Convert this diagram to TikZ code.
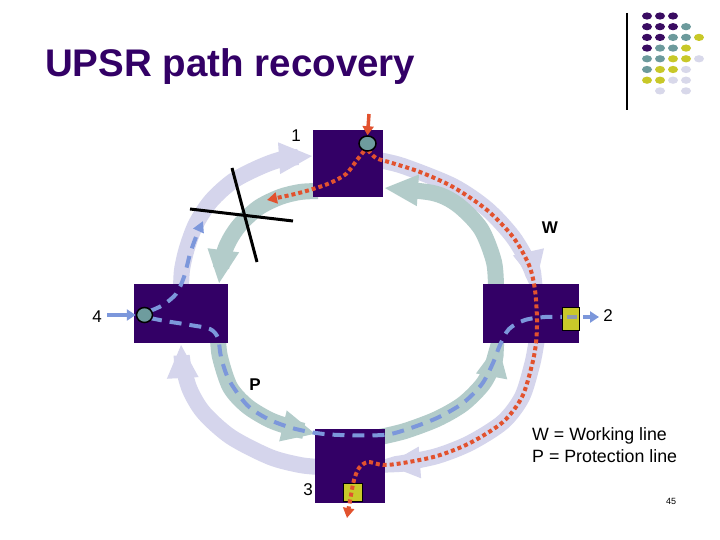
\documentclass[tikz,border=0pt]{standalone}
\usepackage{fontspec}
\setmainfont{Liberation Sans}
\usetikzlibrary{arrows.meta,shapes.geometric}
\definecolor{boxc}{HTML}{330066}
\definecolor{lav}{HTML}{D5D5EC}
\definecolor{tband}{HTML}{B3CCCA}
\definecolor{tdot}{HTML}{6E9C9E}
\definecolor{ylw}{HTML}{C9C92A}
\definecolor{bdash}{HTML}{7C97DB}
\definecolor{rdot}{HTML}{E2522E}
\definecolor{grdash}{HTML}{8E9AAE}
\definecolor{lpur}{HTML}{3A0C62}
\definecolor{lteal}{HTML}{6C9A9C}
\definecolor{lylw}{HTML}{C8C828}
\definecolor{llav}{HTML}{D8D8EA}
\tikzset{
  box/.style={fill=boxc, draw=none, inner sep=0pt, outer sep=0pt},
  lavband/.style={draw=lav, line width=16pt, -{Triangle[length=34pt,width=29pt]}},
  tealband/.style={draw=tband, line width=16pt, -{Triangle[length=34pt,width=29pt]}},
  bluedash/.style={draw=bdash, line width=4pt, dash pattern=on 12pt off 8pt},
  reddot/.style={draw=rdot, line width=4pt, dash pattern=on 4pt off 3pt},
  lbl/.style={font=\fontsize{17}{20}\selectfont, inner sep=0pt},
  sq/.style={fill=ylw, draw=black, line width=0.8pt, inner sep=0pt},
  dotc/.style={fill=tdot, draw=black, line width=1.5pt, ellipse, inner sep=0pt}
}
\begin{document}
\begin{tikzpicture}[x=1pt,y=-1pt]
\useasboundingbox[fill=white] (0,0) rectangle (720,540);

% title
\node[anchor=base west, inner sep=0pt, text=boxc, font=\bfseries\fontsize{38.5}{44}\selectfont] (title) at (45,77) {UPSR path recovery};

% logo
\draw[line width=1.3pt] (627,13) -- (627,110);
\foreach \c/\r/\col in {0/0/lpur,1/0/lpur,2/0/lpur,
  0/1/lpur,1/1/lpur,2/1/lpur,3/1/lteal,
  0/2/lpur,1/2/lpur,2/2/lteal,3/2/lteal,4/2/lylw,
  0/3/lpur,1/3/lteal,2/3/lteal,3/3/lylw,
  0/4/lteal,1/4/lteal,2/4/lylw,3/4/lylw,4/4/llav,
  0/5/lteal,1/5/lylw,2/5/lylw,3/5/llav,
  0/6/lylw,1/6/lylw,2/6/llav,3/6/llav,
  1/7/llav,3/7/llav}{
  \fill[\col] ({647+13*\c},{16+10.7*\r}) ellipse (5pt and 3.6pt);
}

% outer (clockwise) bands
\draw[lavband] plot[smooth] coordinates {(181,290) (182,270) (187,248) (196,224) (211,201) (233,181) (260,167) (283,159) (313,156)};
\draw[lavband] plot[smooth] coordinates {(378,160) (403,166) (453,186) (487,209) (513,237) (530,266) (536,285)};
\draw[lavband] plot[smooth] coordinates {(537,338) (536,345) (532,365) (522,397) (503,422) (470,443) (437,456) (403,463) (386,465)};
\draw[lavband] plot[smooth] coordinates {(320,467) (300,465) (270,457) (231,437) (204,413) (190,390) (183,365) (181,344)};

% inner (counter-clockwise) bands
\draw[tealband] plot[smooth] coordinates {(318,191) (300,192) (280,197) (258,208) (238,227) (225,250) (219,284)};
\draw[tealband] plot[smooth] coordinates {(496,290) (494,262) (481,229) (458,205) (433,193) (384,188)};
\draw[tealband] plot[smooth] coordinates {(380,437) (405,431) (437,419) (463,404) (483,384) (493,364) (498,343)};
\draw[tealband] plot[smooth] coordinates {(218,338) (220,357) (230,387) (247,406) (270,420) (293,428) (316,434)};

% network elements
\node[box, minimum width=70pt, minimum height=67pt] (n1) at (348,163.5) {};
\node[box, minimum width=96pt, minimum height=59pt] (n2) at (531,313.5) {};
\node[box, minimum width=70pt, minimum height=74pt] (n3) at (350,466) {};
\node[box, minimum width=94pt, minimum height=59pt] (n4) at (181,313.5) {};

% labels
\node[lbl] (l1) at (296,136) {1};
\node[lbl, font=\bfseries\fontsize{17}{20}\selectfont] (lw) at (550,228) {W};
\node[lbl] (l2) at (608,316) {2};
\node[lbl] (l3) at (308,490) {3};
\node[lbl] (l4) at (97,317) {4};
\node[lbl, font=\bfseries\fontsize{17}{20}\selectfont] (lp) at (255,385) {P};

% blue protection path
\draw[bluedash, -{Triangle[length=11pt,width=11pt]}] plot[smooth] coordinates {(150,311) (163,305) (176,294) (184,277) (190,254) (196,237) (203,221)};
\draw[bluedash] plot[smooth] coordinates {(150,318) (165,321) (190,325) (210,329) (218,338) (221,357) (229,380) (247,405) (268,419) (292,428) (316,433) (340,435) (383,435) (405,430) (437,418) (463,403) (482,384) (493,363) (500,345) (509,329) (525,320) (545,317) (563,317)};

% yellow squares
\node[sq, minimum width=17pt, minimum height=23pt] (s2) at (570.5,318.5) {};
\draw[grdash, line width=4pt] (567,317) -- (577,317);
\node[sq, minimum width=19pt, minimum height=18pt] (s3) at (352.5,492) {};

% working path (red)
\draw[reddot, -{Triangle[length=10pt,width=11pt]}] plot[smooth] coordinates {(368,150) (376,158) (392,163) (420,172) (453,187) (487,210) (513,237) (529,265) (535,290) (537,320) (536,343) (532,365) (522,397) (503,422) (470,443) (437,456) (403,463) (383,465) (368,462) (359,468) (354,480) (351,495) (347,518)};
\draw[reddot, -{Triangle[length=10pt,width=11pt]}] plot[smooth] coordinates {(364,151) (357,160) (346,174) (330,183) (313,189) (295,194) (267,200)};

% input / output arrows
\coordinate (rin) at (369,114);
\coordinate (bin) at (107,315);
\coordinate (bout) at (599,317);
\node[dotc, minimum width=17pt, minimum height=15pt] (c1) at (367.5,143.5) {};
\node[dotc, minimum width=16pt, minimum height=15pt] (c4) at (144.5,315) {};
\draw[rdot, line width=3.5pt, -{Triangle[length=9pt,width=11pt]}] (rin) -- (c1.north);
\draw[bdash, line width=3.5pt, -{Triangle[length=9pt,width=11pt]}] (bin) -- (c4.west);
\draw[bdash, line width=3.5pt, -{Triangle[length=9pt,width=11pt]}] ([xshift=4pt]s2.east|-bout) -- (bout);

% break mark
\coordinate (xa) at (190,209);
\coordinate (xb) at (293,221);
\coordinate (xc) at (232,168);
\coordinate (xd) at (257,262);
\draw[line width=3pt] (xa) -- (xb);
\draw[line width=3pt] (xc) -- (xd);

% legend
\node[anchor=base west, inner sep=0pt, font=\fontsize{17.8}{21}\selectfont] (leg1) at (532,440) {W = Working line};
\node[anchor=base west, inner sep=0pt, font=\fontsize{17.8}{21}\selectfont] (leg2) at (532,462) {P = Protection line};
\node[inner sep=0pt, font=\fontsize{9}{11}\selectfont] (pg) at (671,501) {45};
\end{tikzpicture}
\end{document}
